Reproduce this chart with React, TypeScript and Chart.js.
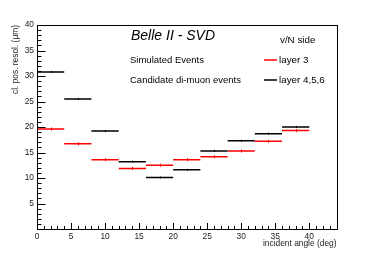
import React, { useEffect, useRef } from "react";
import { Chart, registerables } from "chart.js";

Chart.register(...registerables);

const binEdges = [0, 4, 8, 12, 16, 20, 24, 28, 32, 36, 40];
const layer3 = [19.6, 16.7, 13.6, 11.85, 12.5, 13.6, 14.15, 15.3, 17.2, 19.3];
const layer3Err = [0.3, 0.3, 0.3, 0.3, 0.3, 0.3, 0.3, 0.3, 0.3, 0.3];
const layer456 = [30.8, 25.5, 19.2, 13.2, 10.1, 11.6, 15.3, 17.3, 18.7, 20.0];
const layer456Err = [0.2, 0.2, 0.2, 0.2, 0.2, 0.2, 0.2, 0.2, 0.2, 0.2];
const xTickValues = [0, 5, 10, 15, 20, 25, 30, 35, 40];
const yTickValues = [5, 10, 15, 20, 25, 30, 35, 40];

const RED = "#ff0000";
const BLACK = "#000000";
const FONT = "'Liberation Sans', Arial, sans-serif";

function segments(vals: number[]) {
  const pts: { x: number; y: number | null }[] = [];
  vals.forEach((v, i) => {
    pts.push({ x: binEdges[i], y: v });
    pts.push({ x: binEdges[i + 1], y: v });
    pts.push({ x: binEdges[i + 1], y: null });
  });
  return pts;
}

const framePlugin = {
  id: "rootFrame",
  afterDatasetsDraw(chart: any) {
    const { ctx, chartArea: a, scales } = chart;
    const xs = scales.x;
    const ys = scales.y;
    ctx.save();
    const drawErr = (vals: number[], errs: number[], color: string) => {
      ctx.strokeStyle = color;
      ctx.lineWidth = 1;
      vals.forEach((v, i) => {
        const cx = xs.getPixelForValue((binEdges[i] + binEdges[i + 1]) / 2);
        ctx.beginPath();
        ctx.moveTo(Math.round(cx) + 0.5, ys.getPixelForValue(v - errs[i]));
        ctx.lineTo(Math.round(cx) + 0.5, ys.getPixelForValue(v + errs[i]));
        ctx.stroke();
      });
    };
    drawErr(layer456, layer456Err, BLACK);
    drawErr(layer3, layer3Err, RED);

    ctx.strokeStyle = "#000";
    ctx.lineWidth = 1;
    ctx.strokeRect(Math.round(a.left) + 0.5, Math.round(a.top) + 0.5, Math.round(a.right - a.left), Math.round(a.bottom - a.top));
    for (let v = 1; v <= 40; v++) {
      const py = Math.round(ys.getPixelForValue(v)) + 0.5;
      const len = v % 5 === 0 ? 8.5 : 4.5;
      ctx.beginPath();
      ctx.moveTo(a.left, py);
      ctx.lineTo(a.left + len, py);
      ctx.stroke();
    }
    for (let v = 1; v <= 44; v++) {
      const px = Math.round(xs.getPixelForValue(v)) + 0.5;
      const len = v % 5 === 0 ? 6 : 3;
      ctx.beginPath();
      ctx.moveTo(px, a.bottom);
      ctx.lineTo(px, a.bottom - len);
      ctx.stroke();
    }

    ctx.fillStyle = "#000";
    ctx.textBaseline = "middle";
    ctx.textAlign = "left";
    ctx.font = `italic 14px ${FONT}`;
    ctx.fillText("Belle II - SVD", 131, 36);
    ctx.font = `9.5px ${FONT}`;
    ctx.fillText("Simulated Events", 130, 60);
    ctx.fillText("Candidate di-muon events", 130, 80);
    ctx.font = `9.8px ${FONT}`;
    ctx.fillText("v/N side", 280, 40);
    ctx.fillText("layer 3", 279, 60);
    ctx.fillText("layer 4,5,6", 279, 80);
    ctx.lineWidth = 1.5;
    ctx.strokeStyle = RED;
    ctx.beginPath();
    ctx.moveTo(264, 60);
    ctx.lineTo(277, 60);
    ctx.stroke();
    ctx.strokeStyle = BLACK;
    ctx.beginPath();
    ctx.moveTo(264, 80);
    ctx.lineTo(277, 80);
    ctx.stroke();
    ctx.restore();
  },
};

export default function App() {
  const ref = useRef<HTMLCanvasElement>(null);
  useEffect(() => {
    document.body.style.margin = "0";
    const chart = new Chart(ref.current as HTMLCanvasElement, {
      type: "line",
      data: {
        datasets: [
          {
            label: "layer 4,5,6",
            data: segments(layer456),
            borderColor: BLACK,
            borderWidth: 1.5,
            pointRadius: 0,
            spanGaps: false,
          },
          {
            label: "layer 3",
            data: segments(layer3),
            borderColor: RED,
            borderWidth: 1.5,
            pointRadius: 0,
            spanGaps: false,
          },
        ],
      },
      options: {
        animation: false,
        responsive: false,
        parsing: false as any,
        layout: { padding: { left: 0, top: 25, right: 37.5, bottom: 0 } },
        plugins: { legend: { display: false }, tooltip: { enabled: false } },
        scales: {
          x: {
            type: "linear",
            min: 0,
            max: 44,
            grid: { display: false, drawTicks: false },
            border: { display: false },
            afterBuildTicks: (s: any) => {
              s.ticks = xTickValues.map((v) => ({ value: v }));
            },
            afterFit: (s: any) => {
              s.height = 26;
            },
            ticks: {
              padding: 3,
              color: "#222",
              font: { family: FONT, size: 8.4 },
              maxRotation: 0,
              autoSkip: false,
            },
            title: {
              display: true,
              text: "incident angle (deg)",
              align: "end",
              color: "#222",
              font: { family: FONT, size: 8.4 },
              padding: { top: 0, bottom: 6.5 },
            },
          },
          y: {
            type: "linear",
            min: 0,
            max: 40,
            grid: { display: false, drawTicks: false },
            border: { display: false },
            afterBuildTicks: (s: any) => {
              s.ticks = yTickValues.map((v) => ({ value: v }));
            },
            afterFit: (s: any) => {
              s.width = 37;
            },
            ticks: {
              padding: 3,
              color: "#222",
              font: { family: FONT, size: 8.4 },
              autoSkip: false,
            },
            title: {
              display: true,
              text: "cl. pos. resol. (μm)",
              align: "end",
              color: "#222",
              font: { family: FONT, size: 8.4 },
              padding: { top: 10.5, bottom: 0 },
            },
          },
        },
      },
      plugins: [framePlugin],
    });
    return () => chart.destroy();
  }, []);
  return (
    <div style={{ width: 374, height: 255 }}>
      <canvas ref={ref} width={374} height={255} style={{ display: "block" }} />
    </div>
  );
}
